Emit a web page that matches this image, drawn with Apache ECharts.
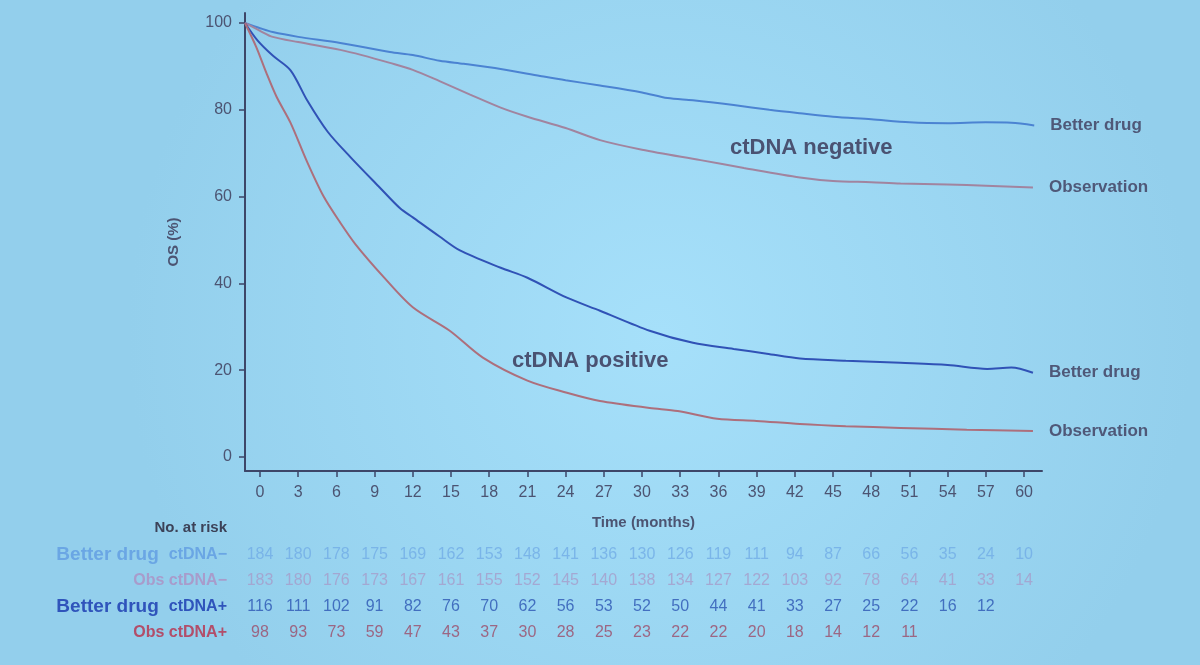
<!DOCTYPE html>
<html>
<head>
<meta charset="utf-8">
<script src="https://cdn.jsdelivr.net/npm/echarts@6/dist/echarts.min.js"></script>
<style>
  html, body { margin: 0; padding: 0; }
  #chart { width: 1200px; height: 665px; }
</style>
</head>
<body>
<div id="chart"></div>
<script>
// tick labels
const months = [0, 3, 6, 9, 12, 15, 18, 21, 24, 27, 30, 33, 36, 39, 42, 45, 48, 51, 54, 57, 60];
const osTicks = [0, 20, 40, 60, 80, 100];

// survival curves, [month, OS %]
const betterNeg = [[-1.18, 100], [0, 98.8], [1, 97.9], [3, 96.8], [6.3, 95.4], [10.2, 93.3], [12, 92.6], [14.1, 91.3], [16, 90.6], [18.9, 89.4], [22, 87.8], [24, 86.8], [26.7, 85.6], [30, 84], [32, 82.7], [34, 82.2], [37.2, 81.1], [40, 80], [42.4, 79.2], [45, 78.4], [48, 77.8], [51, 77.1], [54, 76.9], [57, 77.1], [59, 77.0], [60.8, 76.4]];
const obsNeg = [[-1.18, 100], [0, 98.2], [1, 96.8], [3, 95.6], [6.3, 93.8], [8, 92.6], [10.2, 90.8], [12, 89.2], [14.1, 86.6], [16.5, 83.5], [18.9, 80.5], [21, 78.4], [24, 75.8], [26.7, 73], [30, 70.8], [34.6, 68.4], [38, 66.6], [42.4, 64.4], [45, 63.6], [48, 63.3], [50.3, 63.0], [54, 62.8], [57, 62.5], [60.7, 62.1]];
const betterPos = [[-1.18, 100], [-0.2, 96], [1, 92.5], [2.4, 89.1], [3.7, 82.2], [5.3, 75], [7.1, 69.1], [9.4, 62.1], [11, 57.3], [12, 55.2], [14.1, 50.8], [15.7, 47.6], [18.9, 43.6], [21, 41.3], [24.1, 36.7], [26.7, 33.7], [30.6, 29.1], [34, 26.3], [37.2, 24.9], [39.8, 23.8], [42.4, 22.7], [46, 22.2], [50.3, 21.7], [54, 21.2], [57.1, 20.3], [59, 20.6], [60.7, 19.4]];
const obsPos = [[-1.18, 100], [-0.3, 94.5], [0.5, 88.5], [1.3, 83], [2.4, 77], [3.7, 68], [5, 60], [6.3, 54], [7.5, 49], [9.7, 41.5], [12, 34.5], [14.9, 29.1], [17.5, 22.9], [21, 17.6], [24.1, 14.8], [26.7, 12.9], [30.6, 11.3], [32.8, 10.6], [35.9, 8.8], [39, 8.3], [42.4, 7.6], [46, 7.1], [50.3, 6.7], [55.5, 6.3], [60.7, 6.0]];

// number at risk
const riskRows = ["Better drug ctDNA−", "Obs ctDNA−", "Better drug ctDNA+", "Obs ctDNA+"];
const riskBetterNeg = [184, 180, 178, 175, 169, 162, 153, 148, 141, 136, 130, 126, 119, 111, 94, 87, 66, 56, 35, 24, 10];
const riskObsNeg = [183, 180, 176, 173, 167, 161, 155, 152, 145, 140, 138, 134, 127, 122, 103, 92, 78, 64, 41, 33, 14];
const riskBetterPos = [116, 111, 102, 91, 82, 76, 70, 62, 56, 53, 52, 50, 44, 41, 33, 27, 25, 22, 16, 12];
const riskObsPos = [98, 93, 73, 59, 47, 43, 37, 30, 28, 25, 23, 22, 22, 20, 18, 14, 12, 11];

const FONT = "Liberation Sans, Arial, sans-serif";
const AXIS = "#3d4668";
const TEXT = "#4c5472";

const chart = echarts.init(document.getElementById("chart"));

function curve(name, data, color, label) {
  return {
    name,
    type: "line",
    xAxisIndex: 0,
    yAxisIndex: 0,
    data,
    showSymbol: false,
    smooth: 0.3,
    lineStyle: { color, width: 2 },
    endLabel: {
      show: true,
      formatter: label,
      distance: 16,
      color: "#4f5878",
      fontFamily: FONT,
      fontWeight: "bold",
      fontSize: 17
    },
    z: 3
  };
}

function riskSeries(row, values, color) {
  return {
    type: "scatter",
    xAxisIndex: 1,
    yAxisIndex: 1,
    symbolSize: 0,
    data: values.map((v, i) => [months[i], row, v]),
    label: {
      show: true,
      position: "inside",
      formatter: p => p.value[2],
      color,
      fontFamily: FONT,
      fontSize: 16
    }
  };
}

const rowColors = ["#6aa6e4", "#a89ccb", "#2f54bb", "#b24e6a"];

chart.setOption({
  backgroundColor: {
    type: "radial", x: 0.55, y: 0.5, r: 0.8,
    colorStops: [
      { offset: 0, color: "#a6e0fa" },
      { offset: 1, color: "#93cfec" }
    ]
  },
  textStyle: { fontFamily: FONT },
  grid: [
    { left: 245, right: 158, top: 13, bottom: 194 },
    { left: 245, right: 158, top: 542, height: 103 }
  ],
  xAxis: [
    {
      type: "value",
      gridIndex: 0,
      min: -1.178,
      max: 61.41,
      name: "Time (months)",
      nameLocation: "middle",
      nameGap: 44,
      nameTextStyle: { color: TEXT, fontSize: 15, fontWeight: "bold" },
      axisLine: { onZero: false, lineStyle: { color: AXIS, width: 2 } },
      axisTick: { customValues: months, length: 6, lineStyle: { color: AXIS, width: 1.5 } },
      axisLabel: { customValues: months, color: TEXT, fontSize: 16, margin: 14 },
      splitLine: { show: false }
    },
    {
      type: "value",
      gridIndex: 1,
      min: -1.178,
      max: 61.41,
      show: false
    }
  ],
  yAxis: [
    {
      type: "value",
      gridIndex: 0,
      min: -3.23,
      max: 102.3,
      name: "OS (%)",
      nameLocation: "middle",
      nameGap: 64,
      nameTextStyle: { color: TEXT, fontSize: 15, fontWeight: "bold" },
      axisLine: { show: true, onZero: false, lineStyle: { color: AXIS, width: 2 } },
      axisTick: { show: true, customValues: osTicks, length: 6, lineStyle: { color: AXIS, width: 1.5 } },
      axisLabel: { customValues: osTicks, color: TEXT, fontSize: 16, margin: 13 },
      splitLine: { show: false }
    },
    {
      type: "category",
      gridIndex: 1,
      inverse: true,
      data: riskRows,
      axisLine: { show: false },
      axisTick: { show: false },
      axisLabel: {
        margin: 18,
        formatter(value, idx) {
          if (value.startsWith("Better drug")) {
            return "{b" + idx + "|Better drug}   {c" + idx + "|" + value.slice(12) + "}";
          }
          return "{c" + idx + "|" + value + "}";
        },
        rich: {
          b0: { color: rowColors[0], fontSize: 19, fontWeight: "bold", fontFamily: FONT },
          c0: { color: rowColors[0], fontSize: 16, fontWeight: "bold", fontFamily: FONT },
          c1: { color: rowColors[1], fontSize: 16, fontWeight: "bold", fontFamily: FONT },
          b2: { color: rowColors[2], fontSize: 19, fontWeight: "bold", fontFamily: FONT },
          c2: { color: rowColors[2], fontSize: 16, fontWeight: "bold", fontFamily: FONT },
          c3: { color: rowColors[3], fontSize: 16, fontWeight: "bold", fontFamily: FONT }
        }
      }
    }
  ],
  graphic: [
    {
      type: "text", x: 227, y: 520,
      style: { text: "No. at risk", fill: "#3c4258", font: "bold 15px " + FONT, textAlign: "right" }
    },
    {
      type: "text", x: 730, y: 137,
      style: { text: "ctDNA negative", fill: "#4a5272", font: "bold 22px " + FONT }
    },
    {
      type: "text", x: 512, y: 350,
      style: { text: "ctDNA positive", fill: "#4a5272", font: "bold 22px " + FONT }
    }
  ],
  series: [
    curve("Better drug ctDNA−", betterNeg, "#4b83d2", "Better drug"),
    curve("Obs ctDNA−", obsNeg, "#a1849f", "Observation"),
    curve("Better drug ctDNA+", betterPos, "#3052b6", "Better drug"),
    curve("Obs ctDNA+", obsPos, "#ad6f7c", "Observation"),
    riskSeries(riskRows[0], riskBetterNeg, "#72ade6"),
    riskSeries(riskRows[1], riskObsNeg, "#a69cc9"),
    riskSeries(riskRows[2], riskBetterPos, "#2c55b3"),
    riskSeries(riskRows[3], riskObsPos, "#9c4b68")
  ]
});
</script>
</body>
</html>
